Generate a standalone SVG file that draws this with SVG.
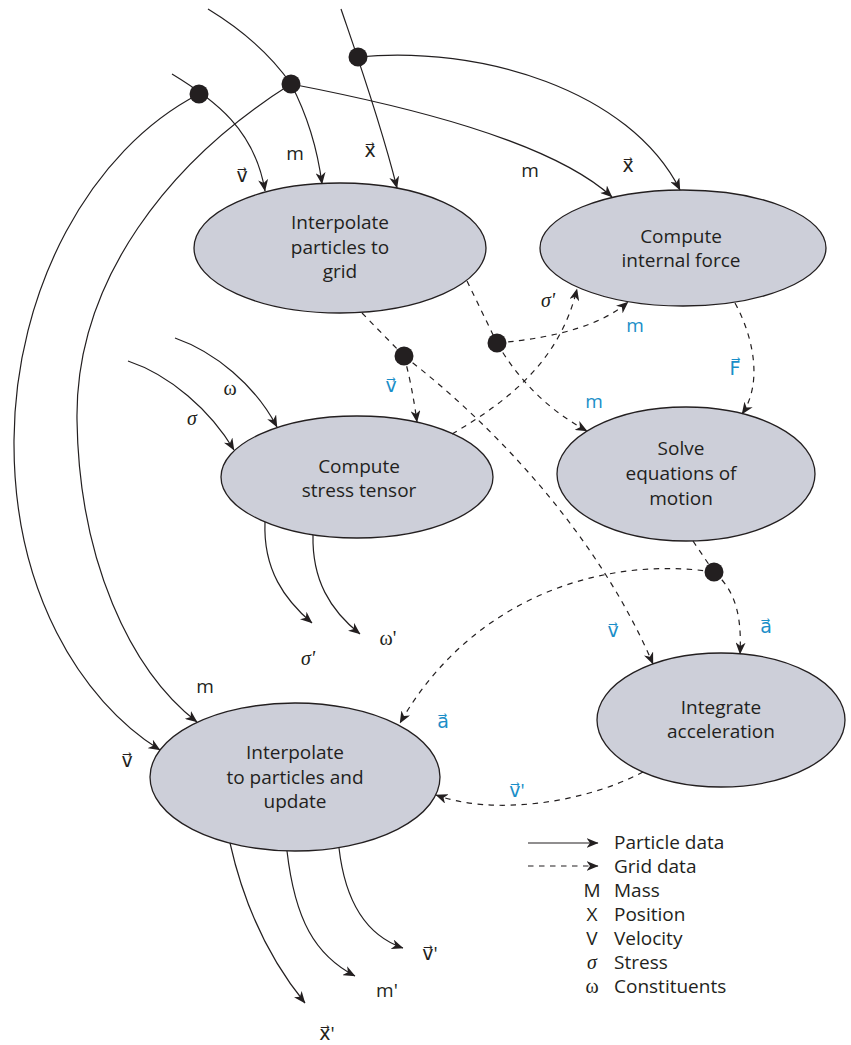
<svg xmlns="http://www.w3.org/2000/svg" width="851" height="1045" viewBox="0 0 851 1045">
<style>
.node ellipse{fill:#cdcfd9;stroke:#231f20;stroke-width:1.3}
.nt{font-family:"Open Sans","DejaVu Sans",sans-serif;font-size:19px;fill:#231f20;text-anchor:middle}
.p{fill:none;stroke:#231f20;stroke-width:1.2;marker-end:url(#ah)}
.g{fill:none;stroke:#231f20;stroke-width:1.2;stroke-dasharray:5.5 5.5;marker-end:url(#ah)}
.nd{fill:none;stroke:#231f20;stroke-width:1.2;stroke-dasharray:5.5 5.5}
.dot{fill:#231f20}
.lb{font-family:"Open Sans","DejaVu Sans",sans-serif;font-size:19px;fill:#231f20;text-anchor:middle}
.bl{fill:#1a8ec8}
.gr{font-family:"Liberation Serif",serif;font-size:20px;fill:#231f20;text-anchor:middle}
.it{font-style:italic}
.lg{font-family:"Open Sans","DejaVu Sans",sans-serif;font-size:19px;fill:#231f20}
</style>
<defs>
<marker id="ah" viewBox="0 0 12 10" refX="11.5" refY="5" markerWidth="12" markerHeight="10" markerUnits="userSpaceOnUse" orient="auto">
<path d="M0,0 L12,5 L0,10 L3.5,5 z" fill="#231f20"/>
</marker>
</defs>
<rect width="851" height="1045" fill="#ffffff"/>

<g id="node-interp-p2g" class="node">
<ellipse cx="340" cy="248" rx="146" ry="65"/>
<text class="nt" x="340" y="229">Interpolate</text>
<text class="nt" x="340" y="254">particles to</text>
<text class="nt" x="340" y="278">grid</text>
</g>
<g id="node-internal-force" class="node">
<ellipse cx="683" cy="248" rx="143" ry="58"/>
<text class="nt" x="681" y="243">Compute</text>
<text class="nt" x="681" y="267">internal force</text>
</g>
<g id="node-stress" class="node">
<ellipse cx="357" cy="477" rx="136" ry="61"/>
<text class="nt" x="359" y="473">Compute</text>
<text class="nt" x="359" y="497">stress tensor</text>
</g>
<g id="node-solve" class="node">
<ellipse cx="686" cy="474" rx="129" ry="67"/>
<text class="nt" x="681" y="455">Solve</text>
<text class="nt" x="681" y="480">equations of</text>
<text class="nt" x="681" y="505">motion</text>
</g>
<g id="node-integrate" class="node">
<ellipse cx="721" cy="720" rx="124" ry="67"/>
<text class="nt" x="721" y="714">Integrate</text>
<text class="nt" x="721" y="738">acceleration</text>
</g>
<g id="node-interp-g2p" class="node">
<ellipse cx="295" cy="777" rx="145" ry="74"/>
<text class="nt" x="295" y="759">Interpolate</text>
<text class="nt" x="295" y="784">to particles and</text>
<text class="nt" x="295" y="808">update</text>
</g>

<g id="connectors">
<path class="p" d="M341,9 C355,50 380,120 397,188"/>
<path class="p" d="M358,57 C480,45 630,90 680,190"/>
<path class="p" d="M208,9 Q262,42 291,84 Q315,130 322,184"/>
<path class="p" d="M291,84 C400,105 550,140 612,197"/>
<path class="p" d="M291,84 C170,160 75,280 77,420 C79,560 130,670 197,722"/>
<path class="p" d="M199,94 C90,150 15,290 14,440 C13,590 80,700 160,750"/>
<path class="p" d="M172,74 C215,100 255,130 265,191"/>
<path class="p" d="M128,361 C170,375 210,410 234,450"/>
<path class="p" d="M175,338 C215,352 255,385 277,427"/>
<path class="p" d="M265,522 C263,570 285,600 312,623"/>
<path class="p" d="M313,535 C312,580 330,610 360,634"/>
<path class="p" d="M230,843 C245,910 270,960 305,1003"/>
<path class="p" d="M287,851 C295,920 315,955 355,976"/>
<path class="p" d="M339,848 C345,900 365,935 403,948"/>
<path class="nd" d="M362,313 L404,356"/>
<path class="g" d="M404,356 Q412,385 417,422"/>
<path class="g" d="M404,356 C500,430 600,540 653,664"/>
<path class="nd" d="M467,281 L497,343"/>
<path class="g" d="M497,343 Q590,335 628,302"/>
<path class="g" d="M497,343 Q530,400 587,431"/>
<path class="g" d="M452,434 C510,400 560,360 577,289"/>
<path class="g" d="M735,303 C755,340 762,385 742,414"/>
<path class="nd" d="M693,541 L714,572"/>
<path class="g" d="M714,572 C735,590 742,615 740,654"/>
<path class="g" d="M714,572 C600,555 470,600 400,723"/>
<path class="g" d="M643,772 C580,805 490,815 436,795"/>
<circle class="dot" cx="358" cy="57" r="9.5"/>
<circle class="dot" cx="291" cy="84" r="9.5"/>
<circle class="dot" cx="199" cy="94" r="9.5"/>
<circle class="dot" cx="404" cy="356" r="9.5"/>
<circle class="dot" cx="497" cy="343" r="9.5"/>
<circle class="dot" cx="714" cy="572" r="9.5"/>
</g>

<g id="labels">
<text class="lb" x="242" y="182">v&#x20D7;</text>
<text class="lb" x="295" y="160">m</text>
<text class="lb" x="370" y="157">x&#x20D7;</text>
<text class="lb" x="530" y="177">m</text>
<text class="lb" x="628" y="172">x&#x20D7;</text>
<text class="gr it" x="548" y="307">σ'</text>
<text class="gr" x="230" y="395">ω</text>
<text class="gr it" x="192" y="425">σ</text>
<text class="gr it" x="308" y="665">σ'</text>
<text class="gr" x="388" y="645">ω'</text>
<text class="lb" x="205" y="693">m</text>
<text class="lb" x="127" y="767">v&#x20D7;</text>
<text class="lb" x="387" y="997">m'</text>
<text class="lb" x="430" y="960">v&#x20D7;'</text>
<text class="lb" x="327" y="1040">x&#x20D7;'</text>
<text class="lb bl" x="635" y="332">m</text>
<text class="lb bl" x="391" y="392">v&#x20D7;</text>
<text class="lb bl" x="594" y="408">m</text>
<text class="lb bl" x="735" y="375">F&#x20D7;</text>
<text class="lb bl" x="613" y="637">v&#x20D7;</text>
<text class="lb bl" x="766" y="633">a&#x20D7;</text>
<text class="lb bl" x="443" y="728">a&#x20D7;</text>
<text class="lb bl" x="517" y="797">v&#x20D7;'</text>
</g>

<g id="legend">
<path class="p" d="M528,843 L598,843"/>
<path class="g" d="M528,866 L598,866"/>
<text class="lg" x="614" y="849">Particle data</text>
<text class="lg" x="614" y="873">Grid data</text>
<text class="lg" x="592" y="897" text-anchor="middle">M</text>
<text class="lg" x="614" y="897">Mass</text>
<text class="lg" x="592" y="921" text-anchor="middle">X</text>
<text class="lg" x="614" y="921">Position</text>
<text class="lg" x="592" y="945" text-anchor="middle">V</text>
<text class="lg" x="614" y="945">Velocity</text>
<text class="gr it" x="592" y="969">σ</text>
<text class="lg" x="614" y="969">Stress</text>
<text class="gr" x="592" y="993">ω</text>
<text class="lg" x="614" y="993">Constituents</text>
</g>
</svg>
